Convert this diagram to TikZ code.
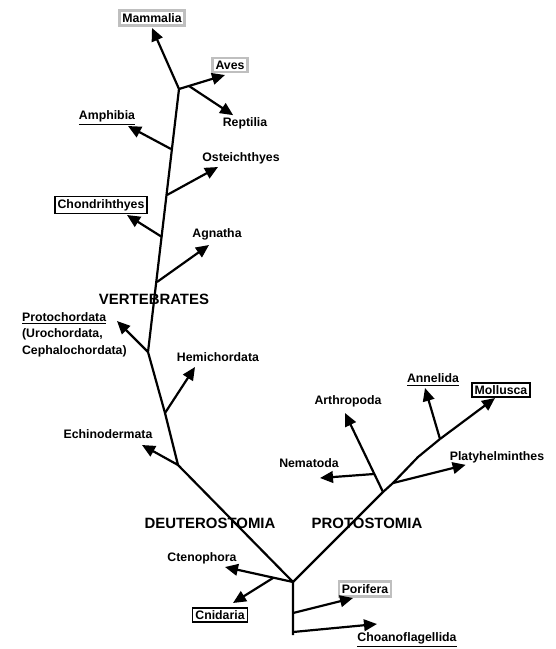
\documentclass[tikz,border=0pt]{standalone}
\usepackage{fontspec}
\setmainfont{Liberation Sans}
\usetikzlibrary{arrows.meta}
\tikzstyle{taxon}=[font=\fontsize{7}{9.4}\selectfont\bfseries, inner sep=1pt]
\tikzstyle{gbox}=[taxon, draw=gray!50, line width=1.4pt, inner sep=1.6pt]
\tikzstyle{kbox}=[taxon, draw=black, line width=1pt, inner sep=1.6pt]
\tikzstyle{clade}=[font=\fontsize{8.5}{10}\selectfont\bfseries, inner sep=0pt]
\tikzstyle{stem}=[-, line width=1.25pt]
\tikzstyle{twig}=[-{Triangle[length=7.4pt,width=6.6pt]}, line width=1.25pt]
\begin{document}
\begin{tikzpicture}[x=0.02cm, y=-0.02cm]
\useasboundingbox (0,0) rectangle (555,649);

% branching points and arrow tips
\coordinate (ROOT) at (293,582);
\coordinate (BASE) at (293,635);
\coordinate (PORJ) at (293,613);
\coordinate (PORT) at (353,598);
\coordinate (CHOJ) at (293,632);
\coordinate (CHOT) at (377,624);
\coordinate (CTET) at (225,567);
\coordinate (CNIJ) at (273,578);
\coordinate (CNIT) at (233,603);
\coordinate (ECHJ) at (178,465);
\coordinate (ECHT) at (142,445);
\coordinate (HEMJ) at (165,413);
\coordinate (HEMT) at (195,367);
\coordinate (PROJ) at (148,352);
\coordinate (PROT) at (117,321);
\coordinate (AGNJ) at (157,282);
\coordinate (AGNT) at (209,245);
\coordinate (CHNJ) at (162,237);
\coordinate (CHNT) at (127,215);
\coordinate (OSTJ) at (167,195);
\coordinate (OSTT) at (218,167);
\coordinate (AMPJ) at (171,149);
\coordinate (AMPT) at (128,126);
\coordinate (TOPJ) at (179,89);
\coordinate (MAMT) at (152,28);
\coordinate (AVET) at (225,75);
\coordinate (REPJ) at (189,86);
\coordinate (REPT) at (222,122);
\coordinate (ARTJ) at (383,492);
\coordinate (ARTT) at (345,413);
\coordinate (NEMJ) at (374,474);
\coordinate (NEMT) at (320,478);
\coordinate (PLAJ) at (393,483);
\coordinate (PLAT) at (477,475);
\coordinate (BEND) at (418,457);
\coordinate (ANNJ) at (440,439);
\coordinate (ANNT) at (425,388);
\coordinate (MOLT) at (495,398);

% labels
\node (MAMM) [gbox] at (152,18) {Mammalia};
\node (AVES) [gbox] at (230,65) {Aves};
\node (REPT) [taxon] at (245,123) {Reptilia};
\node (AMPH) [taxon] at (107,118) {\underline{Amphibia}};
\node (OSTE) [taxon] at (241,158) {Osteichthyes};
\node (CHON) [kbox] at (101,205) {Chondrihthyes};
\node (AGNA) [taxon] at (217,234) {Agnatha};
\node (VERT) [clade] at (154,299) {VERTEBRATES};
\node (PROC) [taxon, align=left, anchor=north west] at (20,310)
  {\underline{Protochordata}\\(Urochordata,\\Cephalochordata)};
\node (HEMI) [taxon] at (218,357) {Hemichordata};
\node (ECHI) [taxon] at (108,434) {Echinodermata};
\node (DEUT) [clade] at (210,523) {DEUTEROSTOMIA};
\node (PRTS) [clade] at (367,523) {PROTOSTOMIA};
\node (CTEN) [taxon] at (202,558) {Ctenophora};
\node (CNID) [kbox] at (220,615) {Cnidaria};
\node (PORI) [gbox] at (365,589) {Porifera};
\node (CHOA) [taxon] at (407,640) {\underline{Choanoflagellida}};
\node (ARTH) [taxon] at (348,401) {Arthropoda};
\node (ANNE) [taxon] at (433,380) {\underline{Annelida}};
\node (MOLL) [kbox] at (501,390) {Mollusca};
\node (NEMA) [taxon] at (309,463) {Nematoda};
\node (PLAT) [taxon] at (497,457) {Platyhelminthes};

% stems
\draw[stem] (BASE) -- (ROOT) -- (ECHJ) -- (HEMJ) -- (PROJ) -- (TOPJ);
\draw[stem] (ROOT) -- (ARTJ) -- (PLAJ) -- (BEND) -- (ANNJ);

% arrows
\draw[twig] (PORJ) -- (PORT);
\draw[twig] (CHOJ) -- (CHOT);
\draw[twig] (ROOT) -- (CTET);
\draw[twig] (CNIJ) -- (CNIT);
\draw[twig] (ECHJ) -- (ECHT);
\draw[twig] (HEMJ) -- (HEMT);
\draw[twig] (PROJ) -- (PROT);
\draw[twig] (AGNJ) -- (AGNT);
\draw[twig] (CHNJ) -- (CHNT);
\draw[twig] (OSTJ) -- (OSTT);
\draw[twig] (AMPJ) -- (AMPT);
\draw[twig] (TOPJ) -- (MAMT);
\draw[twig] (TOPJ) -- (AVET);
\draw[twig] (REPJ) -- (REPT);
\draw[twig] (ARTJ) -- (ARTT);
\draw[twig] (NEMJ) -- (NEMT);
\draw[twig] (PLAJ) -- (PLAT);
\draw[twig] (ANNJ) -- (ANNT);
\draw[twig] (ANNJ) -- (MOLT);

\end{tikzpicture}
\end{document}
